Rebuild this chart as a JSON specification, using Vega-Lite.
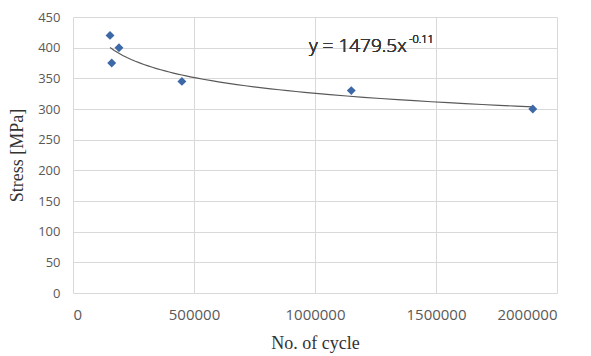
{
  "$schema": "https://vega.github.io/schema/vega-lite/v6.json",
  "width": 484,
  "height": 276,
  "autosize": {"type": "none"},
  "padding": {"left": 73, "top": 17, "right": 34, "bottom": 63},
  "background": "white",
  "config": {"view": {"stroke": null}},
  "data": {
    "values": [
      {"cycles": 153000, "stress": 420},
      {"cycles": 160000, "stress": 375},
      {"cycles": 190000, "stress": 400},
      {"cycles": 450000, "stress": 345},
      {"cycles": 1150000, "stress": 330},
      {"cycles": 1900000, "stress": 300}
    ]
  },
  "encoding": {
    "x": {
      "field": "cycles", "type": "quantitative",
      "scale": {"domain": [0, 2000000], "nice": false},
      "axis": {
        "values": [0, 500000, 1000000, 1500000, 2000000],
        "format": "d",
        "labelOverlap": false,
        "title": "No. of cycle",
        "titleFont": "Liberation Serif", "titleFontSize": 18, "titleFontWeight": "normal", "titleColor": "#333333",
        "titlePadding": 12,
        "labelFont": "Open Sans", "labelFontSize": 15, "labelColor": "#595959", "labelPadding": 14,
        "ticks": false, "domain": false,
        "grid": true, "gridColor": "#d9d9d9", "gridWidth": 1
      }
    },
    "y": {
      "field": "stress", "type": "quantitative",
      "scale": {"domain": [0, 450], "nice": false},
      "axis": {
        "values": [0, 50, 100, 150, 200, 250, 300, 350, 400, 450],
        "labelOverlap": false,
        "title": "Stress [MPa]",
        "titleFont": "Liberation Serif", "titleFontSize": 18, "titleFontWeight": "normal", "titleColor": "#333333",
        "titlePadding": 11,
        "labelFont": "Open Sans", "labelFontSize": 13, "labelColor": "#595959", "labelPadding": 13,
        "ticks": false, "domain": false,
        "grid": true, "gridColor": "#d9d9d9", "gridWidth": 1
      }
    }
  },
  "layer": [
    {
      "transform": [{"regression": "stress", "on": "cycles", "method": "pow"}],
      "mark": {"type": "line", "color": "#595959", "strokeWidth": 1.2}
    },
    {
      "mark": {"type": "point", "shape": "diamond", "filled": true, "color": "#3d68a8", "size": 80, "opacity": 1}
    },
    {
      "mark": {"type": "text", "text": "y = 1479.5x", "align": "left", "baseline": "alphabetic", "font": "Open Sans", "fontSize": 19, "fontWeight": 300, "color": "#383838"},
      "encoding": {
        "x": {"datum": 975000, "type": "quantitative"},
        "y": {"datum": 393, "type": "quantitative"}
      }
    },
    {
      "mark": {"type": "text", "text": "-0.11", "align": "left", "baseline": "alphabetic", "font": "Open Sans", "fontSize": 11, "fontWeight": 300, "color": "#383838"},
      "encoding": {
        "x": {"datum": 1388000, "type": "quantitative"},
        "y": {"datum": 407, "type": "quantitative"}
      }
    }
  ]
}
